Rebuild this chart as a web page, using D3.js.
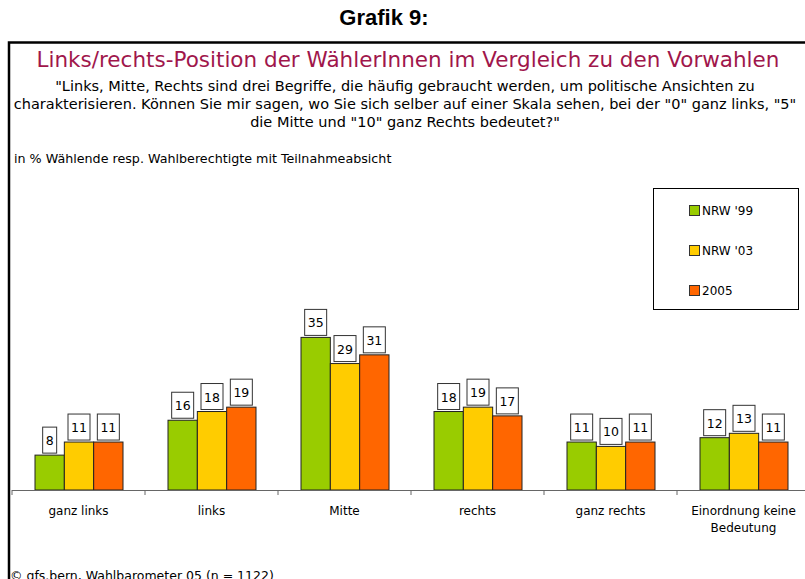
<!DOCTYPE html>
<head>
  <meta charset="utf-8">
  <script src="https://d3js.org/d3.v7.min.js"></script>
  <style>
    body { margin:0; background:#fff; }
    text { font-family: "DejaVu Sans", sans-serif; }
  </style>
</head>
<body>
  <script>
    // Daten
    var categories = ["ganz links", "links", "Mitte", "rechts", "ganz rechts", "Einordnung keine Bedeutung"];
    var seriesNames = ["NRW '99", "NRW '03", "2005"];
    var nrw99 = [8, 16, 35, 18, 11, 12];
    var nrw03 = [11, 18, 29, 19, 10, 13];
    var y2005 = [11, 19, 31, 17, 11, 11];
    var colors = ["#99cc00", "#ffcc00", "#ff6600"];

    var series = [nrw99, nrw03, y2005];
    var data = categories.map(function(c, i){
      return {cat: c, values: series.map(function(s, j){ return {key: seriesNames[j], value: s[i]} })}
    })

    var svg = d3.select("body").append("svg")
      .attr("width", 805)
      .attr("height", 579)

    // Rahmen
    svg.append("path")
      .attr("d", "M9,580 V42.5 H806")
      .attr("fill", "none")
      .attr("stroke", "#000")
      .attr("stroke-width", 2.5)

    svg.append("text")
      .attr("x", 384).attr("y", 25)
      .attr("text-anchor", "middle")
      .style("font-family", "Liberation Sans")
      .style("font-weight", "bold")
      .style("font-size", "22px")
      .text("Grafik 9:")

    svg.append("text")
      .attr("x", 408).attr("y", 67)
      .attr("text-anchor", "middle")
      .style("font-size", "21.5px")
      .attr("fill", "#a0164b")
      .text("Links/rechts-Position der WählerInnen im Vergleich zu den Vorwahlen")

    var sub = ["\"Links, Mitte, Rechts sind drei Begriffe, die häufig gebraucht werden, um politische Ansichten zu",
               "charakterisieren. Können Sie mir sagen, wo Sie sich selber auf einer Skala sehen, bei der \"0\" ganz links, \"5\"",
               "die Mitte und \"10\" ganz Rechts bedeutet?\""]
    svg.selectAll(".sub").data(sub).enter().append("text")
      .attr("class", "sub")
      .attr("x", 405)
      .attr("y", function(d, i){ return 91 + i * 18 })
      .attr("text-anchor", "middle")
      .style("font-size", "14.5px")
      .text(function(d){ return d })

    svg.append("text")
      .attr("x", 14).attr("y", 163)
      .style("font-size", "12.7px")
      .text("in % Wählende resp. Wahlberechtigte mit Teilnahmeabsicht")

    // Skalen
    var x0 = d3.scaleBand().domain(categories).range([12, 810])
    var x1 = d3.scaleBand().domain(seriesNames).range([23, 111])
    var y = d3.scaleLinear().domain([0, 40]).range([490, 315.6])
    var color = d3.scaleOrdinal().domain(seriesNames).range(colors)

    var groups = svg.selectAll(".grp").data(data).enter().append("g")
      .attr("class", "grp")
      .attr("transform", function(d){ return "translate(" + x0(d.cat) + ",0)" })

    groups.selectAll("rect.bar").data(function(d){ return d.values }).enter().append("rect")
      .attr("class", "bar")
      .attr("x", function(d){ return x1(d.key) })
      .attr("width", x1.bandwidth())
      .attr("y", function(d){ return y(d.value) })
      .attr("height", function(d){ return y(0) - y(d.value) })
      .attr("fill", function(d){ return color(d.key) })
      .attr("stroke", "#222")
      .attr("stroke-width", 1)

    // Wertelabels mit Kasten
    var lab = groups.selectAll("g.lab").data(function(d){ return d.values }).enter().append("g")
      .attr("class", "lab")
      .attr("transform", function(d){ return "translate(" + (x1(d.key) + x1.bandwidth() / 2) + "," + (y(d.value) - 2) + ")" })
    lab.append("rect")
      .attr("x", function(d){ return String(d.value).length > 1 ? -11 : -7 })
      .attr("width", function(d){ return String(d.value).length > 1 ? 22 : 14 })
      .attr("y", -26).attr("height", 26)
      .attr("fill", "#fff")
      .attr("stroke", "#333")
    lab.append("text")
      .attr("y", -8)
      .attr("text-anchor", "middle")
      .style("font-size", "12.5px")
      .text(function(d){ return d.value })

    // Achse
    var axis = d3.axisBottom(x0).tickSize(5).tickFormat("")
    var ax = svg.append("g").attr("transform", "translate(0,490)").call(axis)
    ax.select(".domain").attr("stroke", "#666").attr("d", "M12,0.5 H805")
    ax.selectAll(".tick line").attr("stroke", "#666")
      .attr("transform", function(){ return "translate(" + (-x0.bandwidth() / 2) + ",0)" })

    var catLines = [["ganz links"], ["links"], ["Mitte"], ["rechts"], ["ganz rechts"], ["Einordnung keine", "Bedeutung"]]
    svg.selectAll(".cat").data(categories).enter().append("text")
      .attr("class", "cat")
      .attr("x", function(d){ return x0(d) + x0.bandwidth() / 2 })
      .attr("y", 515)
      .attr("text-anchor", "middle")
      .style("font-size", "12px")
      .each(function(d, i){
        var t = d3.select(this)
        catLines[i].forEach(function(l, k){
          t.append("tspan").attr("x", x0(d) + x0.bandwidth() / 2).attr("dy", k ? 17 : 0).text(l)
        })
      })

    // Legende
    svg.append("rect")
      .attr("x", 653.5).attr("y", 188.5).attr("width", 145).attr("height", 121)
      .attr("fill", "#fff").attr("stroke", "#000")
    var leg = svg.selectAll(".leg").data(seriesNames).enter().append("g")
      .attr("class", "leg")
      .attr("transform", function(d, i){ return "translate(689," + (205 + i * 40) + ")" })
    leg.append("rect")
      .attr("x", 0.5).attr("y", 0.5).attr("width", 10).attr("height", 10)
      .attr("fill", function(d){ return color(d) })
      .attr("stroke", "#333")
    leg.append("text")
      .attr("x", 13).attr("y", 10)
      .style("font-size", "12px")
      .text(function(d){ return d })

    svg.append("text")
      .attr("x", 10).attr("y", 580)
      .style("font-size", "12.5px")
      .text("© gfs.bern, Wahlbarometer 05 (n = 1122)")
  </script>
</body>
